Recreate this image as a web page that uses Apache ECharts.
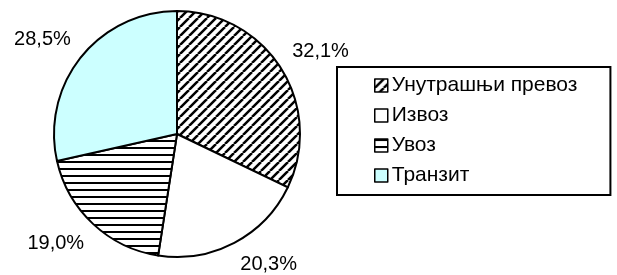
<!DOCTYPE html>
<html>
<head>
<meta charset="utf-8">
<script src="https://cdn.jsdelivr.net/npm/echarts@6/dist/echarts.min.js"></script>
<style>
  html, body { margin: 0; padding: 0; background: #fff; }
  #chart { width: 617px; height: 275px; }
</style>
</head>
<body>
<div id="chart"></div>
<script>
// shares of transport, %
var categories = ['Унутрашњи превоз', 'Извоз', 'Увоз', 'Транзит']
var shares = [32.1, 20.3, 19.0, 28.5]

// hatched fills like the old excel chart
function diagonalTile() {
  var s = 9
  var c = document.createElement('canvas')
  c.width = s; c.height = s
  var ctx = c.getContext('2d')
  ctx.fillStyle = '#fff'
  ctx.fillRect(0, 0, s, s)
  ctx.strokeStyle = '#000'
  ctx.lineWidth = 2.5
  ctx.beginPath()
  for (var k = -1; k <= 1; k++) {
    ctx.moveTo(k * s, s)
    ctx.lineTo(k * s + s, 0)
  }
  ctx.stroke()
  return c
}
function horizontalTile() {
  var c = document.createElement('canvas')
  c.width = 4; c.height = 7
  var ctx = c.getContext('2d')
  ctx.fillStyle = '#fff'
  ctx.fillRect(0, 0, 4, 7)
  ctx.fillStyle = '#000'
  ctx.fillRect(0, 0, 4, 2)
  return c
}

var fills = [
  { image: diagonalTile(), repeat: 'repeat' },
  '#ffffff',
  { image: horizontalTile(), repeat: 'repeat' },
  '#ccffff'
]

var pieData = categories.map(function (name, i) {
  return { name: name, value: shares[i], itemStyle: { color: fills[i] } }
})

var cx = 177, cy = 134, R = 123
var total = shares.reduce(function (a, b) { return a + b }, 0)

var chartDom = document.getElementById('chart')
var myChart = echarts.init(chartDom, null, { renderer: 'canvas' })

var font = 'Liberation Sans, Arial, sans-serif'

var option = {
  animation: false,
  legend: {
    orient: 'vertical',
    left: 337,
    top: 67,
    padding: [8, 33, 9, 37],
    itemGap: 9,
    itemWidth: 13,
    itemHeight: 13,
    icon: 'rect',
    borderColor: '#000',
    borderWidth: 2,
    borderRadius: 0,
    itemStyle: { borderColor: '#000', borderWidth: 1.5 },
    textStyle: { color: '#000', fontSize: 21, fontFamily: font, padding: [0, 0, 0, -1] },
    data: categories
  },
  series: [
    {
      type: 'pie',
      center: [cx, cy],
      radius: R,
      startAngle: 90,
      clockwise: true,
      avoidLabelOverlap: false,
      itemStyle: {
        borderColor: '#000',
        borderWidth: 2
      },
      label: {
        show: true,
        position: 'outside',
        color: '#000',
        fontSize: 20,
        fontFamily: font,
        formatter: function (p) {
          return p.value.toFixed(1).replace('.', ',') + '%'
        }
      },
      labelLine: { show: false },
      labelLayout: function (p) {
        // excel style: label corner sits just outside the slice middle
        var before = 0
        for (var i = 0; i < p.dataIndex; i++) before += shares[i]
        var mid = before + shares[p.dataIndex] / 2
        var a = Math.PI / 2 - 2 * Math.PI * mid / total
        var ux = Math.cos(a), uy = -Math.sin(a)
        var d = R + 13
        return {
          x: cx + d * ux,
          y: cy + d * uy,
          align: ux > 0 ? 'left' : 'right',
          verticalAlign: uy > 0 ? 'top' : 'bottom'
        }
      },
      emphasis: { disabled: true },
      data: pieData
    }
  ]
}
option && myChart.setOption(option)
</script>
</body>
</html>
